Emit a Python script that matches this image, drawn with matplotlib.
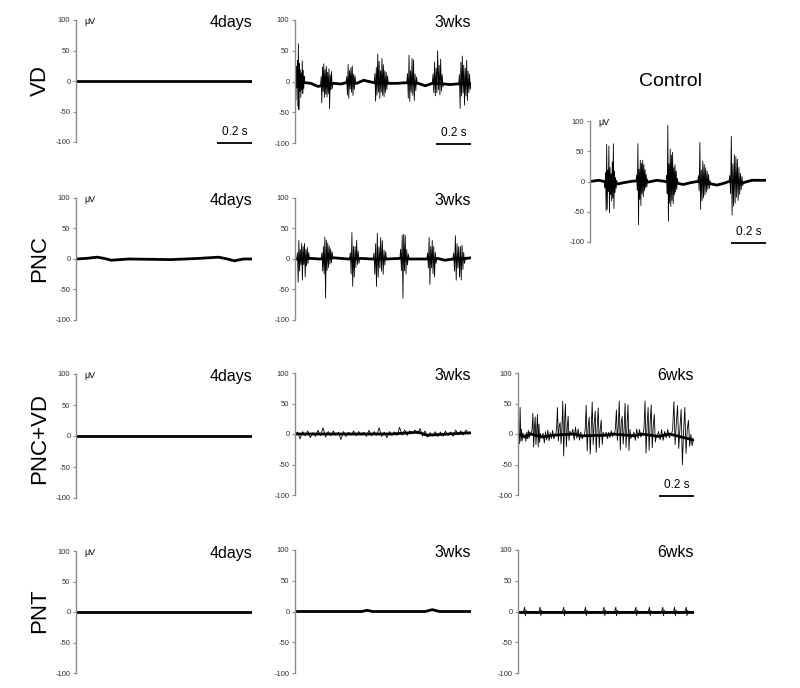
import numpy as np
import matplotlib
matplotlib.use("Agg")
import matplotlib.pyplot as plt

plt.rcParams['font.family'] = ['Liberation Sans', 'DejaVu Sans']
plt.rcParams['axes.unicode_minus'] = False

# ---- data (time in s, amplitude in uV) ----
# each trace: slow baseline points + bursts (t_start, t_end, spike extremes)

VD_4D_BASE_T = [0.0, 1.0]
VD_4D_BASE_V = [0, 0]
VD_4D_BURSTS = []

VD_3W_BASE_T = [0.0, 0.06, 0.09, 0.13, 0.22, 0.26, 0.29, 0.35, 0.39, 0.45, 0.53, 0.58,
                0.63, 0.70, 0.74, 0.78, 0.85, 0.88, 0.92, 1.0]
VD_3W_BASE_V = [0, -2, -3, -8, -3, -4, -2, -3, 2, -2, -3, -3, -2, -3, -7, -3, -4, -5, -4, -3]
VD_3W_BURSTS = [
    (0.00, 0.055, [10, -30, 25, -10, 35, -40, 62, -45, 30, -15, 20, -25, 15, -12, 35,
                   -18, 20, -10, 10]),
    (0.145, 0.215, [15, -28, 30, -10, 35, -20, 25, -15, 30, -20, 20, -15, 25, -40, 15,
                    -10, 20, -8]),
    (0.29, 0.345, [10, -20, 30, -25, 20, -10, 25, -15, 28, -20, 15, -10, 12]),
    (0.45, 0.53, [15, -30, 25, -20, 47, -15, 35, -25, 20, -15, 40, -20, 30, -22, 20,
                  -15, 18, -10, 12]),
    (0.635, 0.695, [15, -25, 45, -30, 20, -15, 40, -20, 38, -28, 15, -12, 10]),
    (0.78, 0.845, [15, -15, 35, -20, 25, -15, 53, -10, 30, -18, 40, -12, 15, -5]),
    (0.93, 1.0, [15, -40, 35, -20, 45, -15, 30, -35, 25, -20, 38, -28, 20, -15, 15, -10]),
]

CTRL_BASE_T = [0.0, 0.05, 0.08, 0.16, 0.19, 0.23, 0.26, 0.33, 0.38, 0.43, 0.50, 0.53,
               0.57, 0.61, 0.69, 0.72, 0.76, 0.79, 0.87, 0.92, 1.0]
CTRL_BASE_V = [0, 2, 0, -4, -2, 0, 1, -1, 2, 0, -3, -5, -2, 0, -4, -6, -3, 0, -2, 2, 2]
CTRL_BURSTS = [
    (0.082, 0.155, [-10, 15, -48, 62, -45, 20, -15, 60, -50, 25, -20, 15, -30, 35, -25,
                    65, -42, 20, -15, 10, -8, 5]),
    (0.262, 0.33, [10, -15, 62, -72, 20, -30, 35, -40, 30, -20, 35, -25, 28, -15, 20,
                   -10, 12, -8, 5]),
    (0.432, 0.50, [10, -20, 93, -65, 30, -35, 55, -40, 45, -30, 50, -35, 25, -20, 30,
                   -15, 20, -10, 8]),
    (0.612, 0.686, [10, -15, 65, -45, 20, -30, 35, -25, 30, -20, 25, -15, 20, -10, 15,
                    -8, 5]),
    (0.79, 0.872, [10, -20, 75, -55, 30, -40, 45, -35, 42, -25, 38, -30, 25, -20, 15,
                   -12, 10, -5]),
]

PNC_4D_BASE_T = [0.0, 0.06, 0.12, 0.16, 0.20, 0.30, 0.54, 0.70, 0.81, 0.86, 0.90, 0.95, 1.0]
PNC_4D_BASE_V = [0, 1, 3, 1, -2, 0, -1, 1, 3, 0, -3, 0, 0]
PNC_4D_BURSTS = []

PNC_3W_BASE_T = [0.0, 0.09, 0.14, 0.22, 0.30, 0.37, 0.44, 0.52, 0.60, 0.65, 0.75, 0.81,
                 0.85, 0.90, 0.97, 1.0]
PNC_3W_BASE_V = [0, 1, 0, 2, 0, 1, 0, 0, 1, 0, 0, 1, -2, 0, 1, 2]
PNC_3W_BURSTS = [
    (0.01, 0.082, [10, -38, 30, -20, 15, -10, 25, -35, 20, -10, 25, -30, 15, -12, 18,
                   -8, 10]),
    (0.149, 0.215, [10, -20, 20, -25, 35, -65, 30, -20, 25, -15, 20, -10, 15, -8, 10]),
    (0.31, 0.368, [10, -25, 43, -45, 20, -30, 20, -15, 30, -10, 12, -8]),
    (0.444, 0.52, [10, -25, 25, -45, 42, -30, 20, -15, 35, -20, 30, -25, 15, -10, 12]),
    (0.596, 0.648, [15, -20, 38, -65, 40, -20, 38, -25, 15, -10, 8]),
    (0.749, 0.806, [10, -15, 35, -42, 20, -15, 30, -25, 20, -30, 10, -8]),
    (0.897, 0.968, [10, -20, 38, -35, 25, -15, 20, -30, 20, -35, 22, -18, 10, -8]),
]

PV_4D_BASE_T = [0.0, 1.0]
PV_4D_BASE_V = [0, 0]
PV_4D_BURSTS = []

PV_3W_BASE_T = [0.0, 0.55, 0.70, 0.75, 1.0]
PV_3W_BASE_V = [0, 0, 3, -2, 2]
PV_3W_BURSTS = [
    (0.0, 1.0, [3, -8, 4, -3, 5, -6, 2, -4, 6, -3, 10, -5, 4, -3, 5, -2, 3, -9, 4, -4,
                3, -2, 5, -3, 4, -2, 3, -4, 6, -3, 4, -2, 10, -4, 3, -6, 4, -2, 3, -3,
                10, -3, 5, -4, 3, -2, 4, -3, 7, -4, 6, -3, 4, -2, 5, -3, 4, -3, 5, -2,
                3, -4, 6, -2, 4, -3, 5, -2]),
]

PV_6W_BASE_T = [0.0, 0.04, 0.07, 0.14, 0.20, 0.32, 0.36, 0.50, 0.54, 0.66, 0.70, 0.80,
                0.86, 1.0]
PV_6W_BASE_V = [0, -5, 0, -5, -2, 0, -3, -2, 0, -3, 0, -4, 0, -10]
PV_6W_BURSTS = [
    (0.004, 0.032, [-15, 45, -10, 10, -8, 5]),
    (0.036, 0.072, [5, -8, 6, -5, 8, -6, 4]),
    (0.076, 0.132, [10, 35, -20, 10, 30, -15, 8, 35, -18, 20, -10, 5]),
    (0.136, 0.21, [6, -10, 8, -6, 10, -8, 5, -5, 8, -6]),
    (0.214, 0.30, [10, 45, -10, 15, 20, -15, 10, 55, -35, 20, 50, -20, 10, 30, -10, 5]),
    (0.304, 0.372, [8, -10, 12, -6, 10, -8, 6, -5]),
    (0.376, 0.49, [10, 50, -25, 15, 30, -30, 10, 55, -15, 20, 40, -28, 15, 45, -20, 10,
                   25, -15, 5]),
    (0.494, 0.544, [5, -6, 4, -5, 6, -4]),
    (0.548, 0.647, [10, 40, -10, 15, 55, -25, 20, 30, -15, 10, 52, -20, 15, 50, -25,
                    10, -5]),
    (0.651, 0.706, [6, -8, 10, -6, 8, -5]),
    (0.71, 0.786, [10, 55, -30, 15, 45, -25, 20, 50, -20, 15, 35, -10]),
    (0.79, 0.868, [8, -6, 10, -8, 6, -5, 8, -6]),
    (0.872, 0.996, [10, 55, -15, 20, 50, -20, 15, 45, -45, 10, 50, -25, 15, 30, -12,
                    8, -10]),
]

PNT_4D_BASE_T = [0.0, 1.0]
PNT_4D_BASE_V = [0, 0]
PNT_4D_BURSTS = []

PNT_3W_BASE_T = [0.0, 0.38, 0.41, 0.44, 0.74, 0.78, 0.82, 1.0]
PNT_3W_BASE_V = [0, 0, 2, 0, 0, 3, 0, 0]
PNT_3W_BURSTS = []

PNT_6W_BASE_T = [0.0, 1.0]
PNT_6W_BASE_V = [0, 0]
PNT_6W_SPIKES = [0.03, 0.118, 0.252, 0.376, 0.481, 0.548, 0.662, 0.739, 0.815, 0.882, 0.948]
PNT_6W_BURSTS = [(t, t + 0.02, [3, 7, -7, 2]) for t in PNT_6W_SPIKES]

ROW_LABELS = ["VD", "PNC", "PNC+VD", "PNT"]

# ---- layout in pixels: (spine x, y of +100, y of -100) ----
W, H = 800, 688
SPAN = 176  # px for 1 s


def make_axes(fig, x0, ytop, ybot):
    ax = fig.add_axes([x0 / W, 1 - ybot / H, SPAN / W, (ybot - ytop) / H])
    ax.set_xlim(0, 1)
    ax.set_ylim(-100, 100)
    for s in ["top", "right", "bottom"]:
        ax.spines[s].set_visible(False)
    ax.spines["left"].set_color("#8c8c8c")
    ax.spines["left"].set_linewidth(1.0)
    ax.set_xticks([])
    ax.set_yticks([-100, -50, 0, 50, 100])
    ax.tick_params(axis="y", length=2, width=0.8, color="#8c8c8c",
                   labelsize=5.5, labelcolor="#333333", pad=2)
    ax.patch.set_alpha(0)
    return ax


def draw_trace(ax, base_t, base_v, bursts):
    pts = []
    for t, v in zip(base_t, base_v):
        if not any(b[0] <= t <= b[1] for b in bursts):
            pts.append((t, v))
    for t0, t1, vals in bursts:
        ts = np.linspace(t0, t1, len(vals) + 2)
        offs = np.interp(ts, base_t, base_v)
        vv = np.array([0] + list(vals) + [0]) + offs
        pts.extend(zip(ts, vv))
    pts.sort()
    tt, vv = zip(*pts)
    ax.plot(base_t, base_v, color="black", lw=2.0, solid_capstyle="butt")
    ax.plot(tt, vv, color="black", lw=0.6)


def scale_bar(ax):
    ax.plot([0.8, 1.0], [-101, -101], color="black", lw=1.3, clip_on=False,
            solid_capstyle="butt")
    ax.text(0.9, -93, "0.2 s", ha="center", va="bottom", fontsize=8.5)


panels = [
    # x0, ytop, ybot, base_t, base_v, bursts, title, uV, bar
    (76, 20, 142, VD_4D_BASE_T, VD_4D_BASE_V, VD_4D_BURSTS, "4days", True, True),
    (295, 20, 143, VD_3W_BASE_T, VD_3W_BASE_V, VD_3W_BURSTS, "3wks", False, True),
    (590, 121, 242, CTRL_BASE_T, CTRL_BASE_V, CTRL_BURSTS, None, True, True),
    (76, 198, 320, PNC_4D_BASE_T, PNC_4D_BASE_V, PNC_4D_BURSTS, "4days", True, False),
    (295, 198, 320, PNC_3W_BASE_T, PNC_3W_BASE_V, PNC_3W_BURSTS, "3wks", False, False),
    (76, 374, 498, PV_4D_BASE_T, PV_4D_BASE_V, PV_4D_BURSTS, "4days", True, False),
    (295, 373, 495, PV_3W_BASE_T, PV_3W_BASE_V, PV_3W_BURSTS, "3wks", False, False),
    (518, 373, 495, PV_6W_BASE_T, PV_6W_BASE_V, PV_6W_BURSTS, "6wks", False, True),
    (76, 551, 673, PNT_4D_BASE_T, PNT_4D_BASE_V, PNT_4D_BURSTS, "4days", True, False),
    (295, 550, 673, PNT_3W_BASE_T, PNT_3W_BASE_V, PNT_3W_BURSTS, "3wks", False, False),
    (518, 550, 673, PNT_6W_BASE_T, PNT_6W_BASE_V, PNT_6W_BURSTS, "6wks", False, False),
]

fig = plt.figure(figsize=(W / 100, H / 100), dpi=100)

for x0, ytop, ybot, bt, bv, bursts, title, uv, bar in panels:
    ax = make_axes(fig, x0, ytop, ybot)
    draw_trace(ax, bt, bv, bursts)
    if title:
        ax.text(1.0, 96, title, ha="right", va="center", fontsize=11.5)
    if uv:
        ax.text(0.05, 98, "μV", ha="left", va="center", fontsize=6.5)
    if bar:
        scale_bar(ax)

fig.text(670 / W, 1 - 81 / H, "Control", ha="center", va="center", fontsize=14)

for label, yc in zip(ROW_LABELS, [80, 259, 438, 611]):
    fig.text(40 / W, 1 - yc / H, label, rotation=90, ha="center", va="center",
             fontsize=16)

fig.savefig("out.png", dpi=100)
